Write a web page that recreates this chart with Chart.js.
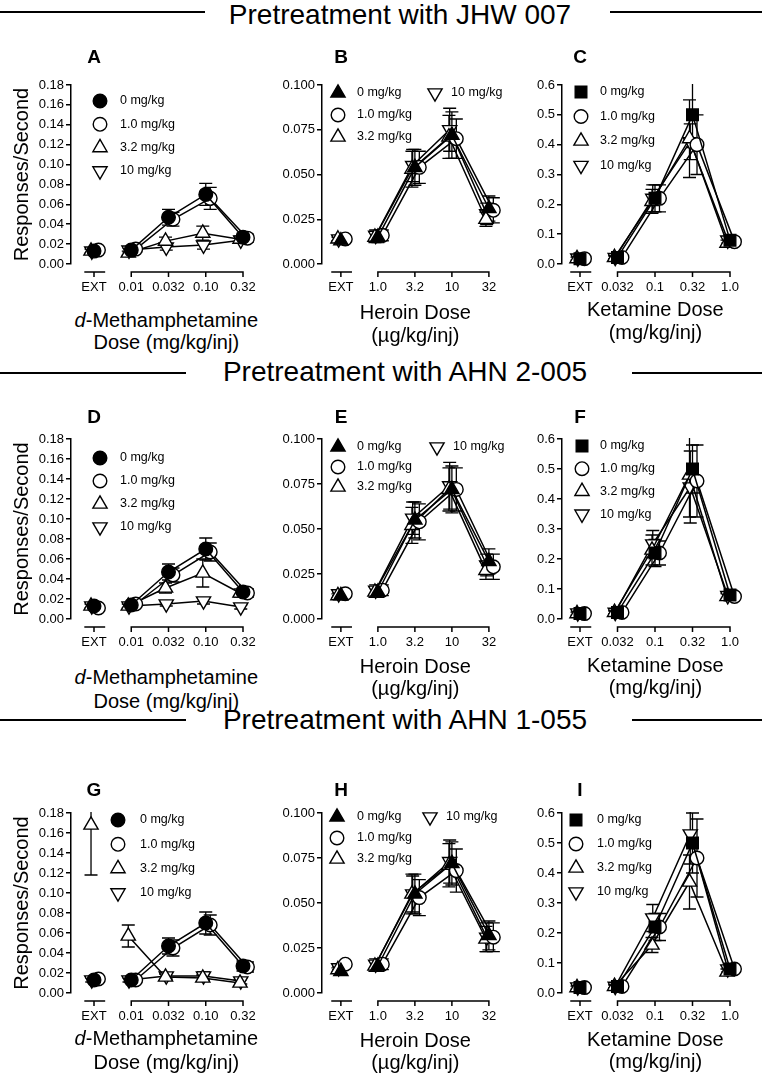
<!DOCTYPE html>
<html>
<head>
<meta charset="utf-8">
<title>Pretreatment dose-response</title>
<script src="https://cdn.jsdelivr.net/npm/chart.js@4.4.1/dist/chart.umd.min.js"></script>
<style>
  html, body { margin: 0; padding: 0; background: #fff; }
  body { position: relative; width: 764px; height: 1078px; overflow: hidden;
         font-family: 'Liberation Sans', Arial, Helvetica, sans-serif; color: #000; }
  canvas { position: absolute; }
  .rule { position: absolute; height: 1.5px; background: #000; }
  .section { position: absolute; width: 500px; text-align: center; font-size: 28px; line-height: 28px; white-space: nowrap; }
  .letter { position: absolute; width: 30px; text-align: center; font-size: 19px; font-weight: bold; line-height: 20px; }
  .xtitle { position: absolute; width: 260px; text-align: center; font-size: 20px; line-height: 22px; white-space: nowrap; }
</style>
</head>
<body>
<script>
// ---- data ----
const sectionTitles = ['Pretreatment with JHW 007', 'Pretreatment with AHN 2-005', 'Pretreatment with AHN 1-055'];
const pretreatLabels = ['0 mg/kg', '1.0 mg/kg', '3.2 mg/kg', '10 mg/kg'];

const methDoses = ['EXT', '0.01', '0.032', '0.10', '0.32'];
const heroinDoses = ['EXT', '1.0', '3.2', '10', '32'];
const ketamineDoses = ['EXT', '0.032', '0.1', '0.32', '1.0'];

const methTitle = ['d-Methamphetamine', 'Dose (mg/kg/inj)'];
const heroinTitle = ['Heroin Dose', '(\u00b5g/kg/inj)'];
const ketamineTitle = ['Ketamine Dose', '(mg/kg/inj)'];
const yTitle = 'Responses/Second';

const methYTicks = [0, 0.02, 0.04, 0.06, 0.08, 0.10, 0.12, 0.14, 0.16, 0.18];
const heroinYTicks = [0, 0.025, 0.05, 0.075, 0.1];
const ketamineYTicks = [0, 0.1, 0.2, 0.3, 0.4, 0.5, 0.6];

// rows: 0, 1.0, 3.2, 10 mg/kg pretreatment; columns: EXT + 4 doses
const meanA = [[0.013, 0.014, 0.047, 0.070, 0.027], [0.014, 0.015, 0.045, 0.066, 0.026], [0.013, 0.011, 0.023, 0.031, 0.025], [0.013, 0.014, 0.017, 0.019, 0.024]];
const semA  = [[0.002, 0.003, 0.008, 0.011, 0.004], [0.002, 0.003, 0.007, 0.011, 0.004], [0.002, 0.002, 0.004, 0.007, 0.003], [0.002, 0.002, 0.003, 0.004, 0.003]];
const meanB = [[0.013, 0.015, 0.054, 0.072, 0.031], [0.014, 0.016, 0.054, 0.070, 0.030], [0.014, 0.015, 0.053, 0.071, 0.025], [0.014, 0.016, 0.055, 0.075, 0.028]];
const semB  = [[0.001, 0.003, 0.010, 0.013, 0.007], [0.001, 0.003, 0.009, 0.011, 0.007], [0.001, 0.003, 0.010, 0.012, 0.004], [0.001, 0.003, 0.009, 0.012, 0.006]];
const meanC = [[0.018, 0.022, 0.22, 0.50, 0.080], [0.018, 0.022, 0.22, 0.40, 0.075], [0.018, 0.022, 0.21, 0.42, 0.070], [0.020, 0.022, 0.22, 0.41, 0.080]];
const semC  = [[0.005, 0.005, 0.045, 0.11, 0.010], [0.005, 0.005, 0.045, 0.10, 0.010], [0.005, 0.005, 0.040, 0.13, 0.010], [0.005, 0.005, 0.045, 0.06, 0.010]];

const meanD = [[0.013, 0.014, 0.047, 0.070, 0.027], [0.011, 0.015, 0.044, 0.067, 0.026], [0.013, 0.013, 0.031, 0.046, 0.026], [0.013, 0.013, 0.015, 0.018, 0.012]];
const semD  = [[0.002, 0.002, 0.008, 0.011, 0.004], [0.002, 0.002, 0.007, 0.009, 0.004], [0.002, 0.002, 0.005, 0.014, 0.004], [0.002, 0.002, 0.002, 0.003, 0.002]];
const meanE = [[0.013, 0.015, 0.055, 0.072, 0.032], [0.014, 0.016, 0.054, 0.072, 0.029], [0.013, 0.015, 0.052, 0.072, 0.027], [0.014, 0.016, 0.056, 0.074, 0.030]];
const semE  = [[0.001, 0.003, 0.010, 0.013, 0.007], [0.001, 0.003, 0.010, 0.012, 0.007], [0.001, 0.003, 0.010, 0.012, 0.005], [0.001, 0.003, 0.009, 0.013, 0.006]];
const meanF = [[0.018, 0.022, 0.22, 0.50, 0.080], [0.018, 0.022, 0.22, 0.46, 0.075], [0.018, 0.022, 0.23, 0.48, 0.075], [0.020, 0.022, 0.25, 0.44, 0.078]];
const semF  = [[0.005, 0.005, 0.045, 0.08, 0.010], [0.005, 0.005, 0.040, 0.12, 0.010], [0.005, 0.005, 0.050, 0.14, 0.010], [0.005, 0.005, 0.045, 0.12, 0.010]];

const meanG = [[0.013, 0.013, 0.047, 0.070, 0.027], [0.014, 0.013, 0.045, 0.068, 0.026], [0.168, 0.057, 0.016, 0.015, 0.010], [0.013, 0.013, 0.017, 0.017, 0.012]];
const semG  = [[0.002, 0.002, 0.008, 0.011, 0.005], [0.002, 0.002, 0.008, 0.010, 0.005], [0.050, 0.011, 0.003, 0.003, 0.003], [0.002, 0.002, 0.003, 0.004, 0.003]];
const meanH = [[0.012, 0.015, 0.055, 0.072, 0.032], [0.016, 0.016, 0.053, 0.068, 0.031], [0.013, 0.015, 0.055, 0.071, 0.030], [0.014, 0.016, 0.055, 0.073, 0.031]];
const semH  = [[0.001, 0.003, 0.011, 0.012, 0.008], [0.001, 0.003, 0.010, 0.012, 0.008], [0.001, 0.003, 0.011, 0.012, 0.007], [0.001, 0.003, 0.010, 0.012, 0.008]];
const meanI = [[0.018, 0.022, 0.22, 0.50, 0.080], [0.018, 0.022, 0.22, 0.45, 0.080], [0.018, 0.022, 0.16, 0.37, 0.070], [0.020, 0.022, 0.25, 0.53, 0.080]];
const semI  = [[0.005, 0.005, 0.045, 0.10, 0.010], [0.005, 0.005, 0.045, 0.13, 0.010], [0.005, 0.005, 0.025, 0.09, 0.010], [0.005, 0.005, 0.045, 0.10, 0.010]];

// ---- layout / style ----
Chart.defaults.font.family = "'Liberation Sans', Arial, Helvetica, sans-serif";
Chart.defaults.color = '#000';

const drugs = [
  {doses: methDoses, yTicks: methYTicks, yMax: 0.18, decimals: 2, title: methTitle, firstMarker: 'circle'},
  {doses: heroinDoses, yTicks: heroinYTicks, yMax: 0.1, decimals: 3, title: heroinTitle, firstMarker: 'triangle'},
  {doses: ketamineDoses, yTicks: ketamineYTicks, yMax: 0.6, decimals: 1, title: ketamineTitle, firstMarker: 'rect'}
];

const colLayout = [
  {left: 0, width: 275, axisX: 71, extX: 94, lastX: 243},
  {left: 255, width: 262, axisX: 322, extX: 341, lastX: 490},
  {left: 500, width: 264, axisX: 562, extX: 580, lastX: 730}
];
const rowLayout = [
  {top: 40, maxY: 85, zeroY: 264, bottom: 300, letterY: 57},
  {top: 395, maxY: 439, zeroY: 619, bottom: 655, letterY: 417},
  {top: 760, maxY: 813, zeroY: 993, bottom: 1030, letterY: 790}
];
const sectionLayout = [
  {cx: 400, y: 15, lineY: 12, leftEnd: 205, rightStart: 610},
  {cx: 405, y: 372, lineY: 373, leftEnd: 186, rightStart: 632},
  {cx: 405, y: 720, lineY: 720, leftEnd: 186, rightStart: 632}
];

const seriesNudge = [0, 0.12, -0.08, -0.06];
const markerRadius = {circle: 6.8, triangle: 8.2, rect: 8.2};
const tickFont = {size: 13};
const legendFont = "12.5px 'Liberation Sans', Arial, sans-serif";

const panels = [
  {letter: 'A', row: 0, col: 0, mean: meanA, sem: semA, legend: {mx: 29, tx: 49, y0: 16, gap: 23.3}, titleY: [320, 342]},
  {letter: 'B', row: 0, col: 1, mean: meanB, sem: semB, legend: {mx: 16, tx: 35, y0: 8, gap: 22, col2: 113}, titleY: [312, 335]},
  {letter: 'C', row: 0, col: 2, mean: meanC, sem: semC, legend: {mx: 19, tx: 38, y0: 7, gap: 24.5}, titleY: [309, 332]},
  {letter: 'D', row: 1, col: 0, mean: meanD, sem: semD, legend: {mx: 29, tx: 49, y0: 19, gap: 23}, titleY: [677, 701]},
  {letter: 'E', row: 1, col: 1, mean: meanE, sem: semE, legend: {mx: 16, tx: 35, y0: 8, gap: 20, col2: 115}, titleY: [666, 688]},
  {letter: 'F', row: 1, col: 2, mean: meanF, sem: semF, legend: {mx: 20, tx: 38, y0: 7, gap: 22.7}, titleY: [665, 687]},
  {letter: 'G', row: 2, col: 0, mean: meanG, sem: semG, legend: {mx: 47, tx: 69, y0: 7, gap: 24.3}, titleY: [1038, 1062]},
  {letter: 'H', row: 2, col: 1, mean: meanH, sem: semH, legend: {mx: 15, tx: 35, y0: 4, gap: 21, col2: 108}, titleY: [1040, 1062]},
  {letter: 'I', row: 2, col: 2, mean: meanI, sem: semI, legend: {mx: 14, tx: 35, y0: 7, gap: 24}, titleY: [1039, 1061]}
];

function markerFor(col, s) {
  const style = s === 0 ? drugs[col].firstMarker : (s === 1 ? 'circle' : 'triangle');
  return {
    pointStyle: style,
    rotation: s === 3 ? 180 : 0,
    radius: markerRadius[style],
    fill: s === 0 ? '#000' : '#fff'
  };
}

function addDiv(cls, text, left, top) {
  const d = document.createElement('div');
  d.className = cls;
  d.style.left = left + 'px';
  d.style.top = top + 'px';
  d.textContent = text;
  document.body.appendChild(d);
  return d;
}

function addRule(x1, x2, y) {
  const d = document.createElement('div');
  d.className = 'rule';
  d.style.left = x1 + 'px';
  d.style.width = (x2 - x1) + 'px';
  d.style.top = (y - 0.75) + 'px';
  document.body.appendChild(d);
}

// section headings
sectionLayout.forEach((s, i) => {
  addRule(0, s.leftEnd, s.lineY);
  addRule(s.rightStart, 762, s.lineY);
  addDiv('section', sectionTitles[i], s.cx - 250, s.y - 13.7);
});

// error bars, broken x axis, in-plot legend
function makeDecor(p) {
  return {
    id: 'prismDecor',
    beforeDatasetsDraw(chart) {
      const {ctx, chartArea} = chart;
      const xs = chart.scales.x, ys = chart.scales.y;
      ctx.save();
      ctx.beginPath();
      ctx.rect(0, chartArea.top - 1, chart.width, chart.height);
      ctx.clip();
      ctx.strokeStyle = '#000';
      ctx.lineWidth = 1.3;
      for (let s = p.mean.length - 1; s >= 0; s--) {
        p.mean[s].forEach((m, i) => {
          const e = p.sem[s][i];
          const x = xs.getPixelForValue(i + seriesNudge[s]);
          const yt = ys.getPixelForValue(m + e);
          const yb = ys.getPixelForValue(m - e);
          ctx.beginPath();
          ctx.moveTo(x, yt); ctx.lineTo(x, yb);
          ctx.moveTo(x - 6.5, yt); ctx.lineTo(x + 6.5, yt);
          ctx.moveTo(x - 6.5, yb); ctx.lineTo(x + 6.5, yb);
          ctx.stroke();
        });
      }
      ctx.restore();
    },
    afterDraw(chart) {
      const {ctx, chartArea} = chart;
      const xs = chart.scales.x;
      const drug = drugs[p.col];
      ctx.save();
      // x axis: short segment under EXT, long segment under the doses
      const ya = chartArea.bottom + 8;
      ctx.strokeStyle = '#000';
      ctx.lineWidth = 1.5;
      ctx.beginPath();
      ctx.moveTo(xs.getPixelForValue(-0.26), ya); ctx.lineTo(xs.getPixelForValue(0.3), ya);
      ctx.moveTo(xs.getPixelForValue(1) - 0.75, ya); ctx.lineTo(xs.getPixelForValue(drug.doses.length - 1) + 0.75, ya);
      drug.doses.forEach((_, i) => {
        const x = xs.getPixelForValue(i);
        ctx.moveTo(x, ya); ctx.lineTo(x, ya + 5);
      });
      ctx.stroke();

      // legend
      const lg = p.legend;
      ctx.font = legendFont;
      ctx.textBaseline = 'middle';
      ctx.textAlign = 'left';
      pretreatLabels.forEach((label, s) => {
        const mk = markerFor(p.col, s);
        let mx = chartArea.left + lg.mx, tx = chartArea.left + lg.tx, row = s;
        if (lg.col2 && s === 3) {
          mx = chartArea.left + lg.col2;
          tx = mx + 16;
          row = 0;
        }
        const y = chartArea.top + lg.y0 + row * lg.gap;
        ctx.fillStyle = mk.fill;
        ctx.strokeStyle = '#000';
        ctx.lineWidth = 1.4;
        Chart.helpers.drawPoint(ctx, {pointStyle: mk.pointStyle, rotation: mk.rotation, radius: mk.radius, borderWidth: 1.4}, mx, y);
        ctx.fillStyle = '#000';
        ctx.fillText(label, tx, y);
      });
      ctx.restore();
    }
  };
}

panels.forEach((p) => {
  const col = colLayout[p.col], row = rowLayout[p.row], drug = drugs[p.col];
  const unit = (col.lastX - col.extX) / (drug.doses.length - 1);
  const xMin = -(col.extX - col.axisX) / unit;
  const xMax = drug.doses.length - 0.5;
  const areaRight = col.lastX + 0.5 * unit;
  const cw = col.width, ch = row.bottom - row.top;

  const cv = document.createElement('canvas');
  cv.width = cw; cv.height = ch;
  cv.style.left = col.left + 'px';
  cv.style.top = row.top + 'px';
  cv.style.width = cw + 'px';
  cv.style.height = ch + 'px';
  document.body.appendChild(cv);

  const datasets = p.mean.map((vals, s) => {
    const mk = markerFor(p.col, s);
    const pts = [];
    vals.forEach((v, i) => {
      if (i === 1) pts.push({x: 0.5, y: null});
      pts.push({x: i + seriesNudge[s], y: v});
    });
    return {
      label: pretreatLabels[s],
      data: pts,
      borderColor: '#000',
      borderWidth: 1.5,
      backgroundColor: mk.fill,
      pointStyle: mk.pointStyle,
      rotation: mk.rotation,
      pointRadius: mk.radius,
      pointBorderWidth: 1.4,
      pointBackgroundColor: mk.fill,
      pointBorderColor: '#000',
      spanGaps: false,
      tension: 0,
      clip: false
    };
  });

  new Chart(cv, {
    type: 'line',
    data: {datasets: datasets},
    options: {
      responsive: false,
      animation: false,
      events: [],
      layout: {padding: {left: 0, top: row.maxY - row.top, right: cw - (areaRight - col.left), bottom: 0}},
      plugins: {legend: {display: false}, tooltip: {enabled: false}, title: {display: false}},
      scales: {
        x: {
          type: 'linear',
          min: xMin,
          max: xMax,
          afterBuildTicks: (s) => { s.ticks = drug.doses.map((_, i) => ({value: i})); },
          afterFit: (s) => { s.height = row.bottom - row.zeroY; },
          grid: {display: false, drawTicks: false},
          border: {display: false},
          ticks: {autoSkip: false, maxRotation: 0, padding: 16, font: tickFont,
                  callback: (v, i) => drug.doses[i]}
        },
        y: {
          min: 0,
          max: drug.yMax,
          afterBuildTicks: (s) => { s.ticks = drug.yTicks.map((v) => ({value: v})); },
          afterFit: (s) => { s.width = col.axisX - col.left; },
          grid: {display: true, drawOnChartArea: false, drawTicks: true, tickLength: 5, color: '#000', lineWidth: 1.5},
          border: {display: true, color: '#000', width: 1.5},
          ticks: {padding: 2, font: tickFont, callback: (v) => Number(v).toFixed(drug.decimals)},
          title: {display: p.col === 0, text: yTitle, font: {size: 20}, padding: {top: 10, bottom: 0}}
        }
      }
    },
    plugins: [makeDecor(p)]
  });

  // panel letter and x axis title
  addDiv('letter', p.letter, col.extX - 15, row.letterY - 10);
  const tcx = (col.axisX + areaRight) / 2;
  drug.title.forEach((line, k) => {
    const d = addDiv('xtitle', '', tcx - 130, p.titleY[k] - 11);
    if (line.indexOf('d-') === 0) {
      const it = document.createElement('i');
      it.textContent = 'd';
      d.appendChild(it);
      d.appendChild(document.createTextNode(line.slice(1)));
    } else {
      d.textContent = line;
    }
  });
});
</script>
</body>
</html>
